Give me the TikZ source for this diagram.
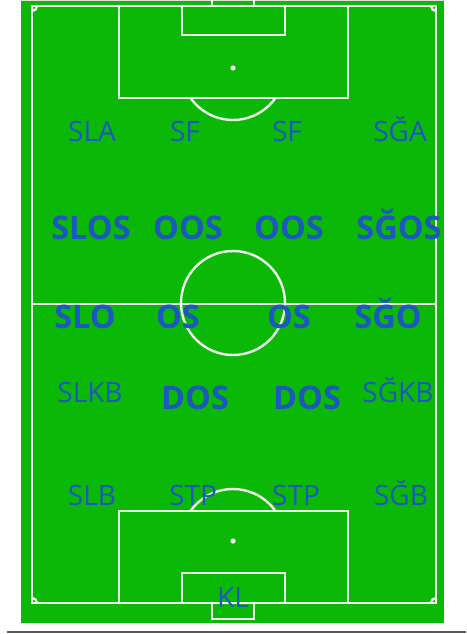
\documentclass[tikz,border=0pt]{standalone}
\usepackage{fontspec}
\newfontfamily\posfont{Open Sans}
\usetikzlibrary{positioning}
\definecolor{pitch}{RGB}{12,184,6}
\definecolor{posblue}{RGB}{28,88,190}

\begin{document}
\begin{tikzpicture}[
    x=1pt, y=-1pt,
    line/.style={draw=white!92!pitch, line width=2.4pt},
    role/.style={text=posblue, anchor=base, inner sep=0pt, font=\posfont\fontsize{28}{28}\selectfont},
    keyrole/.style={role, font=\posfont\bfseries\fontsize{32.5}{32.5}\selectfont}
  ]
    \useasboundingbox (0,0) rectangle (466,634);
    \fill[pitch] (21,0) rectangle (444,623);
    \draw[gray!25, line width=1pt] (21,0.5) -- (444,0.5);
    \draw[gray!70!black, line width=1.5pt] (7,632) -- (466,632);

    % pitch markings
    \draw[line] (32,6) rectangle (436,603);
    \draw[line] (32,304) -- (436,304);
    \draw[line] (233,303) circle (52pt);
    \begin{scope}
      \clip (32,6) rectangle (436,603);
      \foreach \cx/\cy in {32/6, 436/6, 32/603, 436/603}
        \draw[line] (\cx,\cy) circle (5pt);
    \end{scope}
    % top half
    \draw[line] (119,6) rectangle (348,98);
    \draw[line] (182,6) rectangle (285,35);
    \draw[line] (212,-2) -- (212,6) (254,-2) -- (254,6);
    \fill[white] (233,68) circle (2.6pt);
    \begin{scope}
      \clip (0,98) rectangle (466,200);
      \draw[line] (233,68) circle (52pt);
    \end{scope}
    % bottom half
    \draw[line] (119,511) rectangle (348,603);
    \draw[line] (182,573) rectangle (285,603);
    \draw[line] (212,603) rectangle (254,619);
    \fill[white] (233,541) circle (2.6pt);
    \begin{scope}
      \clip (0,400) rectangle (466,511);
      \draw[line] (233,541) circle (52pt);
    \end{scope}

    % positions
    \node[role] (sla)  at (92,141)  {SLA};
    \node[role] (sfl)  at (185,141) {SF};
    \node[role] (sfr)  at (287,141) {SF};
    \node[role] (sga)  at (400,141) {SĞA};

    \node[keyrole] (slos) at (91,239)  {SLOS};
    \node[keyrole] (oosl) at (188,239) {OOS};
    \node[keyrole] (oosr) at (289,239) {OOS};
    \node[keyrole] (sgos) at (399,239) {SĞOS};

    \node[keyrole] (slo)  at (85,328)  {SLO};
    \node[keyrole] (osl)  at (178,328) {OS};
    \node[keyrole] (osr)  at (289,328) {OS};
    \node[keyrole] (sgo)  at (388,328) {SĞO};

    \node[role] (slkb) at (90,402)  {SLKB};
    \node[keyrole] (dosl) at (195,409) {DOS};
    \node[keyrole] (dosr) at (307,409) {DOS};
    \node[role] (sgkb) at (398,402) {SĞKB};

    \node[role] (slb)  at (92,505)  {SLB};
    \node[role] (stpl) at (193,505) {STP};
    \node[role] (stpr) at (296,505) {STP};
    \node[role] (sgb)  at (401,505) {SĞB};

    \node[role] (kl)   at (233,607) {KL};
  \end{tikzpicture}
\end{document}
